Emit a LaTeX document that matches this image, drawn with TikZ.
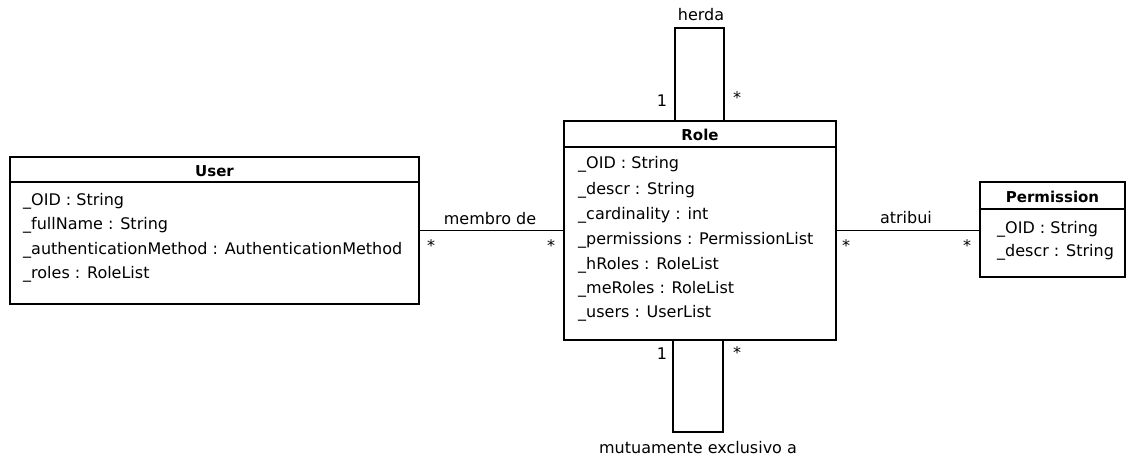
\documentclass[tikz,border=0pt]{standalone}
\usepackage{fontspec}
\setmainfont{DejaVu Sans}
\begin{document}
\begin{tikzpicture}[x=1pt,y=-1pt,
  every node/.style={font=\fontsize{16}{19}\selectfont, inner sep=0pt},
  classbox/.style={draw, line width=1.6pt, inner sep=0pt},
  classtitle/.style={anchor=base, font=\fontsize{15}{18}\selectfont\bfseries},
  attr/.style={anchor=base west},
  mult/.style={anchor=center},
  assoc/.style={line width=1.6pt}]
\useasboundingbox (0,0) rectangle (1126,457);

% class boxes
\node[classbox, minimum width=409pt, minimum height=147pt] (user) at (214.5,230.5) {};
\node[classbox, minimum width=272pt, minimum height=219pt] (role) at (700,230.5) {};
\node[classbox, minimum width=145pt, minimum height=95pt] (perm) at (1052.5,229.5) {};

% compartment dividers
\draw[assoc] (user.north west) ++(0,26) -- ++(409,0);
\draw[assoc] (role.north west) ++(0,27) -- ++(272,0);
\draw[assoc] (perm.north west) ++(0,28) -- ++(145,0);

% class names
\node[classtitle] (userT) at (214.5,176) {User};
\node[classtitle] (roleT) at (700,141) {Role};
\node[classtitle] (permT) at (1052.5,202) {Permission};

% User attributes
\node[attr] (u1) at (23,205) {\_OID : String};
\node[attr] (u2) at (23,229) {\_fullName : String};
\node[attr] (u3) at (23,254) {\_authenticationMethod : AuthenticationMethod};
\node[attr] (u4) at (23,278) {\_roles : RoleList};

% Role attributes
\node[attr] (r1) at (578,169) {\_OID : String};
\node[attr] (r2) at (578,194) {\_descr : String};
\node[attr] (r3) at (578,219) {\_cardinality : int};
\node[attr] (r4) at (578,244) {\_permissions : PermissionList};
\node[attr] (r5) at (578,269) {\_hRoles : RoleList};
\node[attr] (r6) at (578,293) {\_meRoles : RoleList};
\node[attr] (r7) at (578,317) {\_users : UserList};

% Permission attributes
\node[attr] (p1) at (997,233) {\_OID : String};
\node[attr] (p2) at (997,256) {\_descr : String};

% associations
\draw[assoc] (user.east) -- (user.east -| role.west);
\draw[assoc] (role.east) -- (role.east -| perm.west);
\draw[assoc] ([xshift=-25pt]role.north) -- ++(0,-92) -| ([xshift=24pt]role.north);
\draw[assoc] ([xshift=-27pt]role.south) -- ++(0,91) -| ([xshift=23pt]role.south);

% association names
\node (membro) at (490,219) {membro de};
\node (atribui) at (906,218) {atribui};
\node (herda) at (701,15) {herda};
\node (mutex) at (698,448) {mutuamente exclusivo a};

% multiplicities
\node[mult] (m1) at (431,246) {*};
\node[mult] (m2) at (551,246) {*};
\node[mult] (m3) at (846,246) {*};
\node[mult] (m4) at (967,246) {*};
\node[mult] (m5) at (662,101) {1};
\node[mult] (m6) at (737,98) {*};
\node[mult] (m7) at (662,354) {1};
\node[mult] (m8) at (737,353) {*};
\end{tikzpicture}
\end{document}
